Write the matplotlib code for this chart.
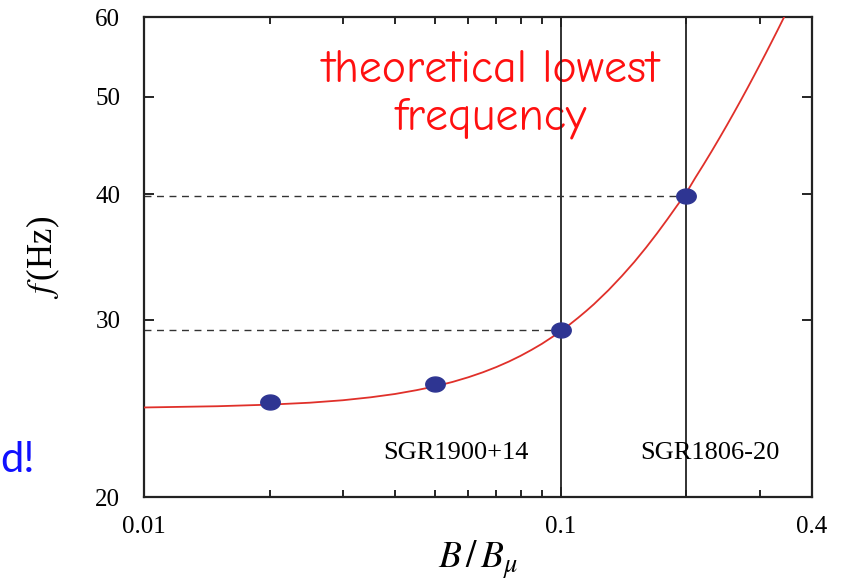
import numpy as np
import matplotlib

matplotlib.use("Agg")
import matplotlib.pyplot as plt
from matplotlib.path import Path
from matplotlib.ticker import FixedLocator, NullFormatter

plt.rcParams["mathtext.fontset"] = "stix"
plt.rcParams["font.family"] = ["Liberation Serif", "DejaVu Serif"]

# lowest frequency vs. normalized field strength
B_curve = [0.01, 0.015, 0.02, 0.025, 0.03, 0.035, 0.04, 0.045, 0.05, 0.055,
           0.06, 0.065, 0.07, 0.075, 0.08, 0.085, 0.09, 0.095, 0.1, 0.105,
           0.11, 0.115, 0.12, 0.13, 0.14, 0.15, 0.16, 0.17, 0.18, 0.19, 0.2,
           0.21, 0.22, 0.23, 0.24, 0.25, 0.26, 0.27, 0.28, 0.29, 0.3, 0.31,
           0.32, 0.33, 0.34, 0.345]
f_curve = [24.55, 24.62, 24.71, 24.82, 24.96, 25.13, 25.32, 25.54, 25.77, 26.03,
           26.31, 26.61, 26.93, 27.27, 27.63, 28.01, 28.40, 28.82, 29.24, 29.69,
           30.15, 30.62, 31.10, 32.11, 33.17, 34.26, 35.40, 36.57, 37.77, 38.98,
           40.15, 41.53, 42.83, 44.15, 45.49, 46.84, 48.21, 49.59, 50.98, 52.39,
           53.81, 55.23, 56.67, 58.11, 59.57, 60.29]

B_points = [0.02, 0.05, 0.1, 0.2]
f_points = [24.85, 25.9, 29.3, 39.85]

# magnetar candidates
sgr_names = ["SGR1900+14", "SGR1806-20"]
sgr_B = [0.1, 0.2]
sgr_f = [29.3, 39.85]

x_ticks = [0.01, 0.1, 0.4]
x_ticklabels = ["0.01", "0.1", "0.4"]
y_ticks = [20, 30, 40, 50, 60]

fig = plt.figure(figsize=(8.54, 5.82), dpi=100)
ax = fig.add_axes([0.1686, 0.146, 0.7822, 0.8247])
ax.set_xscale("log")
ax.set_yscale("log")
ax.set_xlim(0.01, 0.4)
ax.set_ylim(20, 60)

ax.plot(B_curve, f_curve, color="#e0302a", lw=1.3, zorder=3)

# dashed guides from the y axis to each candidate
for b, f in zip(sgr_B, sgr_f):
    ax.plot([0.01, b], [f, f], ls=(0, (5, 4)), color="#333333", lw=1.0, zorder=2)
    ax.axvline(b, color="#222222", lw=1.3, zorder=2)

# slightly wide oval marker
t = np.linspace(0, 2 * np.pi, 60)
oval = Path(np.column_stack([1.3 * np.cos(t), np.sin(t)]), closed=True)
ax.plot(B_points, f_points, ls="none", marker=oval, ms=14,
        color="#2e3592", mec="#2e3592", zorder=4)

ax.text(0.068, 55.6, "theoretical lowest\nfrequency", color="#ff1010",
        fontsize=33, ha="center", va="top", linespacing=1.2,
        family=["Comic Neue", "Lato", "DejaVu Sans"], zorder=1)

ax.text(0.056, 22.1, sgr_names[0], fontsize=19, ha="center", va="center")
ax.text(0.2277, 22.1, sgr_names[1], fontsize=19, ha="center", va="center")

ax.xaxis.set_major_locator(FixedLocator(x_ticks))
ax.set_xticklabels(x_ticklabels)
ax.xaxis.set_minor_locator(FixedLocator([0.02, 0.03, 0.04, 0.05, 0.06, 0.07,
                                         0.08, 0.09, 0.2, 0.3]))
ax.xaxis.set_minor_formatter(NullFormatter())
ax.yaxis.set_major_locator(FixedLocator(y_ticks))
ax.set_yticklabels([str(v) for v in y_ticks])
ax.yaxis.set_minor_locator(FixedLocator([]))

ax.tick_params(which="both", direction="in", top=True, right=True,
               labelsize=18, width=1.2)
ax.tick_params(which="major", length=7)
ax.tick_params(which="minor", length=5)
ax.tick_params(axis="x", pad=14)
ax.tick_params(axis="y", pad=17)
for sp in ax.spines.values():
    sp.set_linewidth(1.6)
    sp.set_color("#222222")

ax.set_xlabel(r"$B\,/\,B_{\mu}$", fontsize=27, labelpad=0)
ax.set_ylabel(r"$f\,$(Hz)", fontsize=25, labelpad=24)

fig.text(0.0, 0.21, "d!", color="#1010ff", fontsize=30, ha="left",
         va="center", family=["Lato", "DejaVu Sans"])

fig.savefig("out.png", dpi=100)
